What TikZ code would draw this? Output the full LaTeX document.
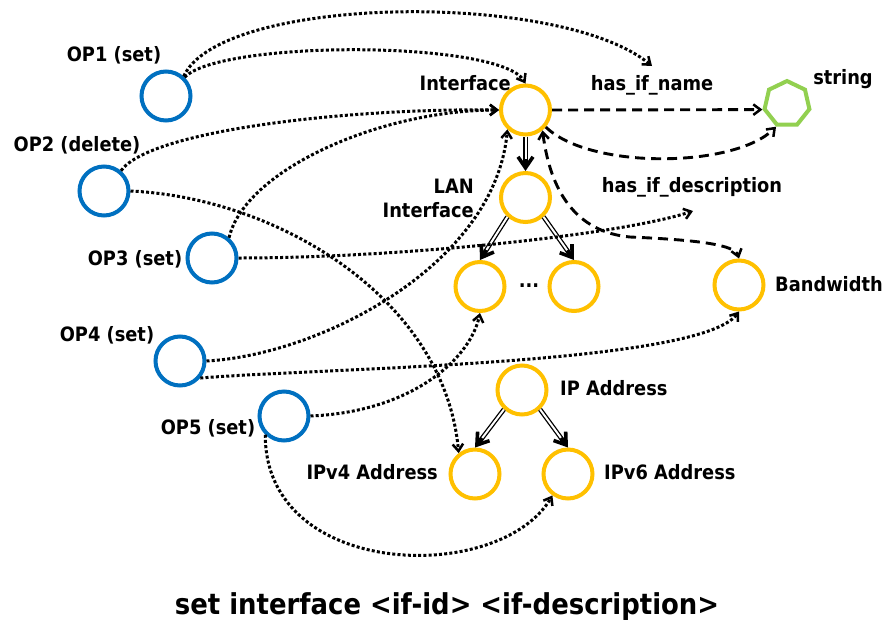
\documentclass[tikz,border=0pt]{standalone}
\usepackage{fontspec}
\setmainfont{DejaVu Sans}[FakeStretch=0.9]
\usetikzlibrary{arrows.meta,shapes.geometric}
\definecolor{opblue}{HTML}{0070C0}
\definecolor{clsyellow}{HTML}{FFC000}
\definecolor{litgreen}{HTML}{92D050}
\tikzset{
  vtip/.tip={Straight Barb[length=7pt,width=10.5pt,line width=2.5pt]},
  subtip/.tip={Straight Barb[length=11pt,width=15pt,line width=3.6pt]},
  op/.style={circle, draw=opblue, line width=4pt, minimum size=49pt, inner sep=0pt},
  cls/.style={circle, draw=clsyellow, line width=4pt, minimum size=49pt, inner sep=0pt},
  lit/.style={regular polygon, regular polygon sides=7, draw=litgreen, line width=4pt, minimum size=46pt, inner sep=0pt},
  lbl/.style={font=\bfseries\fontsize{19.8}{24}\selectfont, inner sep=0pt},
  opref/.style={line width=3pt, dash pattern=on 3pt off 2.2pt, -vtip},
  propline/.style={line width=2.9pt, dash pattern=on 10pt off 6pt},
  prop/.style={propline, -vtip},
  sub/.style={line width=4.6pt, -subtip, postaction={draw=white, line width=2pt, -, shorten >=12pt}},
}
\begin{document}
\begin{tikzpicture}[x=1pt,y=-1pt]
\useasboundingbox (0,0) rectangle (887,625);

% operations
\node[op] (op1) at (166,96) {};
\node[op] (op2) at (104,191) {};
\node[op] (op3) at (212,258) {};
\node[op] (op4) at (180,361) {};
\node[op] (op5) at (284,416) {};

% classes and literal
\node[cls] (iface) at (525.5,110) {};
\node[cls] (lan) at (525.5,197.5) {};
\node[cls] (lc) at (480,286.5) {};
\node[cls] (rc) at (574,286.5) {};
\node[cls] (bw) at (739,285) {};
\node[cls] (ip) at (522,390) {};
\node[cls] (v4) at (475,474) {};
\node[cls] (v6) at (568,474) {};
\node[lit] (str) at (787,104) {};

% labels
\node[lbl] (op1l) at (114,55) {OP1 (set)};
\node[lbl] (op2l) at (77,145) {OP2 (delete)};
\node[lbl] (op3l) at (135,259) {OP3 (set)};
\node[lbl] (op4l) at (107,335) {OP4 (set)};
\node[lbl] (op5l) at (208,428) {OP5 (set)};
\node[lbl, anchor=east] (ifl) at (511,83) {Interface};
\node[lbl] (nml) at (652,85) {has\_if\_name};
\node[lbl] (strl) at (843,79) {string};
\node[lbl, anchor=east, align=right] (lanl) at (474,198) {LAN\\Interface};
\node[lbl] (descl) at (692,187) {has\_if\_description};
\node[lbl] (dots) at (529,286) {...};
\node[lbl, anchor=west] (bwl) at (775,284) {Bandwidth};
\node[lbl, anchor=west] (ipl) at (560,388) {IP Address};
\node[lbl, anchor=east] (v4l) at (438,472) {IPv4 Address};
\node[lbl, anchor=west] (v6l) at (604,472) {IPv6 Address};
\node[font=\bfseries\fontsize{28.8}{32}\selectfont, inner sep=0pt] (title) at (447,607) {set interface <if-id> <if-description>};

\coordinate (nmtip) at (652,66);
\coordinate (desctip) at (693,211);

% subclass links
\draw[sub] (iface.south) -- (lan.north);
\draw[sub] (lan.-133) -- (lc.north);
\draw[sub] (lan.-47) -- (rc.north);
\draw[sub] (ip.-133) -- (v4.north);
\draw[sub] (ip.-47) -- (v6.north);

% properties
\draw[prop] (iface.east) -- (str.corner 3);
\draw[prop] (iface.-40) .. controls (590,170) and (735,168) .. (str.corner 4);
\draw[propline, vtip-vtip] (iface.-50) .. controls (550,190) and (575,232) .. (630,237)
  .. controls (700,240) and (735,245) .. (bw.north);

% operation references
\draw[opref] (op1.48) .. controls (220,-5) and (560,-10) .. (nmtip);
\draw[opref] (op1.45) .. controls (220,40) and (500,40) .. (iface.north);
\draw[opref] (op2.50) .. controls (150,130) and (350,108) .. (iface.west);
\draw[opref] (op3.50) .. controls (245,170) and (380,110) .. (iface.west);
\draw[opref] (op4.east) .. controls (320,355) and (495,265) .. (iface.-133);
\draw[opref] (op4.-40) .. controls (320,368) and (700,365) .. (bw.south);
\draw[opref] (op3.east) .. controls (400,258) and (620,235) .. (desctip);
\draw[opref] (op2.east) .. controls (280,198) and (445,300) .. (v4.128);
\draw[opref] (op5.east) .. controls (410,412) and (470,360) .. (lc.south);
\draw[opref] (op5.-135) .. controls (265,580) and (500,585) .. (v6.-126);
\end{tikzpicture}
\end{document}
